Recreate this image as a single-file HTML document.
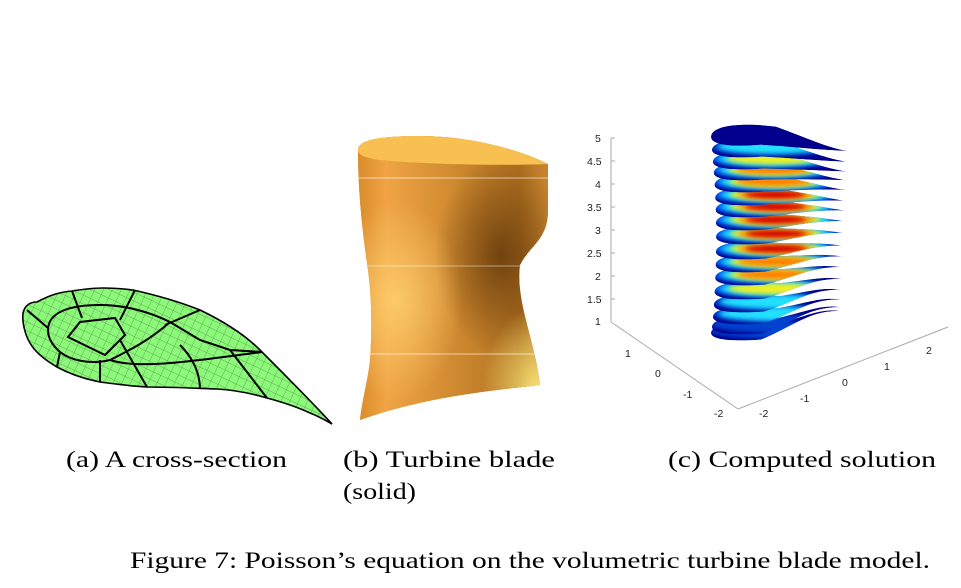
<!DOCTYPE html>
<html><head><meta charset="utf-8"><style>
html,body{margin:0;padding:0;background:#fff;}
svg{display:block}
text{font-family:"Liberation Serif",serif;fill:#000}
.t{font-family:'Liberation Sans',sans-serif;font-size:10.5px;fill:#222}
</style></head><body>
<svg id="s" width="961" height="588" viewBox="0 0 961 588" xmlns="http://www.w3.org/2000/svg">
<defs>
<pattern id="hatch" width="8" height="8" patternUnits="userSpaceOnUse" patternTransform="rotate(25)">
<line x1="0" y1="0" x2="0" y2="8" stroke="#2a4a20" stroke-width="0.7"/>
<line x1="0" y1="0" x2="8" y2="0" stroke="#2a4a20" stroke-width="0.7"/>
</pattern>
<clipPath id="cs"><path d="M23,313 C25,305 30,302 37,302 C50,295 60,292 72,291 C85,289 95,288 103,288 C115,288 125,289 133,290 C160,296 180,302 200,310 C225,322 245,335 260,350 C285,375 310,400 332,424 C325,420 318,416 310,413 C295,406 282,402 267,398 C250,393 235,390 217,389 C190,388 170,387 147,387 C130,386 115,384 100,382 C80,378 68,373 57,367 C45,360 35,352 30,343 C25,335 22,322 23,313 Z"/></clipPath>
<linearGradient id="bladeG" x1="0" y1="0" x2="1" y2="0">
<stop offset="0" stop-color="#d98c2a"/><stop offset="0.15" stop-color="#f0a445"/><stop offset="0.5" stop-color="#d08a30"/><stop offset="0.85" stop-color="#b07020"/><stop offset="1" stop-color="#c88530"/>
</linearGradient>
<radialGradient id="dk" cx="0.75" cy="0.42" r="0.35"><stop offset="0" stop-color="#5a3208" stop-opacity="0.75"/><stop offset="1" stop-color="#5a3208" stop-opacity="0"/></radialGradient>
<radialGradient id="hl" cx="0.2" cy="0.58" r="0.35"><stop offset="0" stop-color="#ffd070" stop-opacity="0.85"/><stop offset="1" stop-color="#ffd070" stop-opacity="0"/></radialGradient>
<radialGradient id="hl2" cx="0.95" cy="0.9" r="0.3"><stop offset="0" stop-color="#fff080" stop-opacity="0.9"/><stop offset="1" stop-color="#fff080" stop-opacity="0"/></radialGradient>
<filter id="bl2" x="-50%" y="-50%" width="200%" height="200%"><feGaussianBlur stdDeviation="2.5"/></filter>
</defs>

<g>
<path d="M23,313 C25,305 30,302 37,302 C50,295 60,292 72,291 C85,289 95,288 103,288 C115,288 125,289 133,290 C160,296 180,302 200,310 C225,322 245,335 260,350 C285,375 310,400 332,424 C325,420 318,416 310,413 C295,406 282,402 267,398 C250,393 235,390 217,389 C190,388 170,387 147,387 C130,386 115,384 100,382 C80,378 68,373 57,367 C45,360 35,352 30,343 C25,335 22,322 23,313 Z" fill="#8cf97a"/>
<g clip-path="url(#cs)">
<rect x="0" y="280" width="340" height="150" fill="url(#hatch)" opacity="0.6"/>
<g fill="none" stroke="#000" stroke-width="2">
<path d="M48,330 C48,312 70,305 100,305 C125,305 150,312 170,322 C150,340 130,350 110,360 C90,365 70,360 60,352 C52,345 48,338 48,330 Z"/>
<path d="M68,337 L80,322 L115,318 L125,335 L105,355 Z"/>
<path d="M27,310 L48,328"/><path d="M72,291 L82,318"/><path d="M135,290 L120,320"/>
<path d="M200,310 L165,325"/><path d="M170,322 L200,340 L230,350 L262,352"/>
<path d="M110,360 C140,370 200,360 262,352 L330,352"/>
<path d="M120,340 L147,387"/><path d="M180,345 C195,360 200,375 200,390"/><path d="M230,350 L267,398"/>
<path d="M100,360 L100,382"/><path d="M60,352 L57,367"/>
</g>
</g>
<path d="M23,313 C25,305 30,302 37,302 C50,295 60,292 72,291 C85,289 95,288 103,288 C115,288 125,289 133,290 C160,296 180,302 200,310 C225,322 245,335 260,350 C285,375 310,400 332,424 C325,420 318,416 310,413 C295,406 282,402 267,398 C250,393 235,390 217,389 C190,388 170,387 147,387 C130,386 115,384 100,382 C80,378 68,373 57,367 C45,360 35,352 30,343 C25,335 22,322 23,313 Z" fill="none" stroke="#000" stroke-width="1.6"/>
</g>

<g>
<path id="bl" d="M358,150 C358,140 380,136 420,136 C470,136 520,150 548,164 L548,210 C548,240 530,245 520,265 C515,300 535,340 540,385 C500,390 430,395 360,420 C362,400 368,380 370,360 C372,330 372,300 368,270 C362,230 358,190 358,150 Z" fill="url(#bladeG)"/>
<use href="#bl" fill="url(#dk)"/>
<path d="M358,150 C358,140 380,136 420,136 C470,136 520,150 548,164 L548,210 C548,240 530,245 520,265 C515,300 535,340 540,385 C500,390 430,395 360,420 C362,400 368,380 370,360 C372,330 372,300 368,270 C362,230 358,190 358,150 Z" fill="url(#dk)"/>
<path d="M358,150 C358,140 380,136 420,136 C470,136 520,150 548,164 L548,210 C548,240 530,245 520,265 C515,300 535,340 540,385 C500,390 430,395 360,420 C362,400 368,380 370,360 C372,330 372,300 368,270 C362,230 358,190 358,150 Z" fill="url(#hl)"/>
<path d="M358,150 C358,140 380,136 420,136 C470,136 520,150 548,164 L548,210 C548,240 530,245 520,265 C515,300 535,340 540,385 C500,390 430,395 360,420 C362,400 368,380 370,360 C372,330 372,300 368,270 C362,230 358,190 358,150 Z" fill="url(#hl2)"/>
<path d="M358,150 C358,140 380,136 420,136 C470,136 520,150 548,164 C500,166 420,164 380,160 C365,158 358,155 358,150 Z" fill="#f8c050"/>
<line x1="358" y1="178" x2="548" y2="178" stroke="#fff" stroke-width="0.8" opacity="0.8"/>
<line x1="365" y1="266" x2="525" y2="266" stroke="#fff" stroke-width="0.8" opacity="0.6"/>
<line x1="368" y1="354" x2="535" y2="354" stroke="#fff" stroke-width="0.8" opacity="0.8"/>
</g>

<g stroke="#aaa" stroke-width="1" fill="none">
<line x1="611" y1="138" x2="611" y2="322"/>
<line x1="611" y1="322" x2="738" y2="409"/>
<line x1="738" y1="409" x2="948" y2="327"/>
</g>
<g>
<text class="t" x="595" y="142">5</text>
<text class="t" x="587" y="165">4.5</text>
<text class="t" x="595" y="188">4</text>
<text class="t" x="587" y="211">3.5</text>
<text class="t" x="595" y="234">3</text>
<text class="t" x="587" y="257">2.5</text>
<text class="t" x="595" y="280">2</text>
<text class="t" x="587" y="303">1.5</text>
<text class="t" x="595" y="325">1</text>
<text class="t" x="625" y="357">1</text>
<text class="t" x="655" y="377">0</text>
<text class="t" x="683" y="398">-1</text>
<text class="t" x="714" y="417">-2</text>
<text class="t" x="759" y="417">-2</text>
<text class="t" x="800" y="402">-1</text>
<text class="t" x="842" y="386">0</text>
<text class="t" x="884" y="370">1</text>
<text class="t" x="926" y="354">2</text>
</g>
<g stroke="#aaa" stroke-width="1">
<line x1="611" y1="138" x2="615" y2="138"/><line x1="611" y1="161" x2="615" y2="161"/><line x1="611" y1="184" x2="615" y2="184"/><line x1="611" y1="207" x2="615" y2="207"/><line x1="611" y1="230" x2="615" y2="230"/><line x1="611" y1="253" x2="615" y2="253"/><line x1="611" y1="276" x2="615" y2="276"/><line x1="611" y1="299" x2="615" y2="299"/>
</g>
<g id="slices"></g>

<text x="66" y="467" font-size="23" textLength="221" lengthAdjust="spacingAndGlyphs">(a) A cross-section</text>
<text x="343" y="467" font-size="23" textLength="212" lengthAdjust="spacingAndGlyphs">(b) Turbine blade</text>
<text x="343" y="499" font-size="23" textLength="73" lengthAdjust="spacingAndGlyphs">(solid)</text>
<text x="668" y="467" font-size="23" textLength="268" lengthAdjust="spacingAndGlyphs">(c) Computed solution</text>
<text x="130" y="568" font-size="23" textLength="800" lengthAdjust="spacingAndGlyphs">Figure 7: Poisson’s equation on the volumetric turbine blade model.</text>
</svg>
<script>
(function(){
var ns="http://www.w3.org/2000/svg",g=document.getElementById("slices"),defs=document.querySelector("defs");
var ys=[137,150,162,173,185,198,210,223,237,252,265,278,292,305,317,327,333];
var lvl=[0,1,2,3,3,4,4,4,4,4,3,3,2,1,1,0,0];
var n=ys.length;
for(var i=n-1;i>=0;i--){
 var Y=ys[i],t=i/(n-1),L=711+Math.sin(t*Math.PI)*5,h=(i==0?13:11);
 var Tx=848-t*8,Ty=Y+14-t*36;
 var d="M"+L+","+Y+" C"+L+","+(Y-h)+" "+(L+35)+","+(Y-h*1.1)+" "+(L+65)+","+(Y-h*0.8)+
 " C"+(L+95)+","+(Y-h*0.5+(Ty-Y)*0.5)+" "+(Tx-20)+","+(Ty-3)+" "+Tx+","+Ty+
 " C"+(Tx-30)+","+(Ty-1)+" "+(L+80)+","+(Y+h*0.3+(Ty-Y)*0.4)+" "+(L+50)+","+(Y+h*0.6)+
 " C"+(L+20)+","+(Y+h*0.8)+" "+L+","+(Y+h*0.6)+" "+L+","+Y+" Z";
 var cp=document.createElementNS(ns,"clipPath");cp.setAttribute("id","c"+i);
 var p0=document.createElementNS(ns,"path");p0.setAttribute("d",d);cp.appendChild(p0);defs.appendChild(cp);
 var gg=document.createElementNS(ns,"g");gg.setAttribute("clip-path","url(#c"+i+")");
 var p=document.createElementNS(ns,"path");p.setAttribute("d",d);p.setAttribute("fill","#00008c");gg.appendChild(p);
 var cols=["#0070ff","#20e0ff","#f0f020","#ff8000","#d00000"];
 var sizes=[[62,9],[54,7],[46,5.5],[38,4.5],[30,3.5]];
 for(var k=0;k<=lvl[i]&&i>0;k++){
  var e=document.createElementNS(ns,"ellipse");
  e.setAttribute("cx",L+60);e.setAttribute("cy",Y-h*0.3);
  e.setAttribute("rx",sizes[k][0]);e.setAttribute("ry",sizes[k][1]);
  e.setAttribute("fill",cols[k]);e.setAttribute("filter","url(#bl2)");
  if(k==0&&lvl[i]<=1)e.setAttribute("opacity","0.6");
  gg.appendChild(e);
 }
 g.appendChild(gg);
}
})();
</script>
</body></html>
